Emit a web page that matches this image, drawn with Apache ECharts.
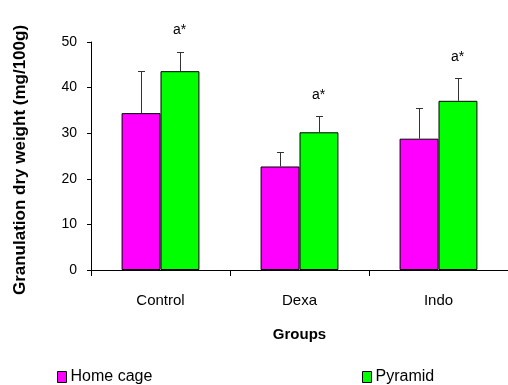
<!DOCTYPE html>
<html>
<head>
<meta charset="utf-8">
<script src="https://cdn.jsdelivr.net/npm/echarts@6/dist/echarts.min.js"></script>
<style>
html,body{margin:0;padding:0;background:#fff;}
#chart{width:508px;height:385px;}
</style>
</head>
<body>
<div id="chart"></div>
<script>
var categories = ['Control', 'Dexa', 'Indo'];
var homeCage = [34.4, 22.7, 28.8];
var homeCageErr = [9.2, 3.2, 6.8];
var pyramid = [43.6, 30.2, 37.1];
var pyramidErr = [4.3, 3.5, 4.9];
var significance = ['a*', 'a*', 'a*'];
var yTicks = [0, 10, 20, 30, 40, 50];

var FONT = '"Liberation Sans", Arial, sans-serif';
var GAP = 0.44; // barCategoryGap fraction

function errorSeries(name, values, errs, side, withLabel) {
  var data = values.map(function (v, i) { return [i, v, v + errs[i], withLabel ? significance[i] : '']; });
  return {
    type: 'custom',
    name: name + ' err',
    z: 5,
    silent: true,
    data: data,
    renderItem: function (params, api) {
      var i = api.value(0);
      var base = api.coord([i, api.value(1)]);
      var top = api.coord([i, api.value(2)]);
      var band = api.size([1, 0])[0];
      var bw = band * (1 - GAP) / 2;
      var x = Math.round(base[0] + side * bw / 2) + 0.5;
      var cap = 3.5;
      var ty = Math.round(top[1]) + 0.5;
      var children = [
        { type: 'line', shape: { x1: x, y1: base[1], x2: x, y2: ty }, style: { stroke: '#333', lineWidth: 1 } },
        { type: 'line', shape: { x1: x - cap, y1: ty, x2: x + cap, y2: ty }, style: { stroke: '#333', lineWidth: 1 } }
      ];
      var lbl = data[params.dataIndex][3];
      if (lbl) {
        children.push({ type: 'text', x: x - 1, y: top[1] - 21, style: { text: lbl, fill: '#000', font: '14px ' + FONT, align: 'center', verticalAlign: 'middle' } });
      }
      return { type: 'group', children: children };
    }
  };
}

var chart = echarts.init(document.getElementById('chart'), null, { renderer: 'canvas' });
chart.setOption({
  animation: false,
  backgroundColor: '#fff',
  textStyle: { fontFamily: FONT },
  grid: { left: 91, top: 42, width: 426, height: 228, containLabel: false },
  legend: [
    { data: ['Home cage'], left: 57, top: 369, icon: 'rect', itemWidth: 9, itemHeight: 11, itemGap: 4,
      textStyle: { fontSize: 16, color: '#000', fontFamily: FONT, padding: [0, 0, 0, -1] }, padding: 0,
      itemStyle: { borderColor: '#000', borderWidth: 1 } },
    { data: ['Pyramid'], left: 362, top: 369, icon: 'rect', itemWidth: 9, itemHeight: 11, itemGap: 4,
      textStyle: { fontSize: 16, color: '#000', fontFamily: FONT, padding: [0, 0, 0, -1] }, padding: 0,
      itemStyle: { borderColor: '#000', borderWidth: 1 } }
  ],
  graphic: [{
    type: 'text', x: 20, y: 160, rotation: Math.PI / 2,
    style: { text: 'Granulation dry weight (mg/100g)', font: 'bold 17px ' + FONT, fill: '#000', align: 'center', verticalAlign: 'middle' }
  }],
  xAxis: {
    type: 'category', data: categories,
    axisLine: { lineStyle: { color: '#000', width: 1 } },
    axisTick: { show: true, length: 6, interval: 0, alignWithLabel: false, lineStyle: { color: '#000' } },
    axisLabel: { fontSize: 15, color: '#000', margin: 23, fontFamily: FONT },
    name: 'Groups', nameLocation: 'middle', nameGap: 57,
    nameTextStyle: { fontSize: 15, fontWeight: 'bold', color: '#000', fontFamily: FONT }
  },
  yAxis: {
    type: 'value', min: yTicks[0], max: yTicks[yTicks.length - 1], interval: 10,
    axisLine: { show: true, lineStyle: { color: '#000', width: 1 } },
    axisTick: { show: true, length: 4, lineStyle: { color: '#000' } },
    axisLabel: { fontSize: 14, color: '#000', margin: 14, fontFamily: FONT },
    splitLine: { show: false }
  },
  series: [
    { type: 'bar', name: 'Home cage', data: homeCage, barGap: 0, barCategoryGap: (GAP * 100) + '%',
      itemStyle: { color: '#FF00FF', borderColor: '#000', borderWidth: 1 } },
    { type: 'bar', name: 'Pyramid', data: pyramid, barGap: 0, barCategoryGap: (GAP * 100) + '%',
      itemStyle: { color: '#00FF00', borderColor: '#000', borderWidth: 1 } },
    errorSeries('Home cage', homeCage, homeCageErr, -1, false),
    errorSeries('Pyramid', pyramid, pyramidErr, 1, true)
  ]
});
</script>
</body>
</html>
